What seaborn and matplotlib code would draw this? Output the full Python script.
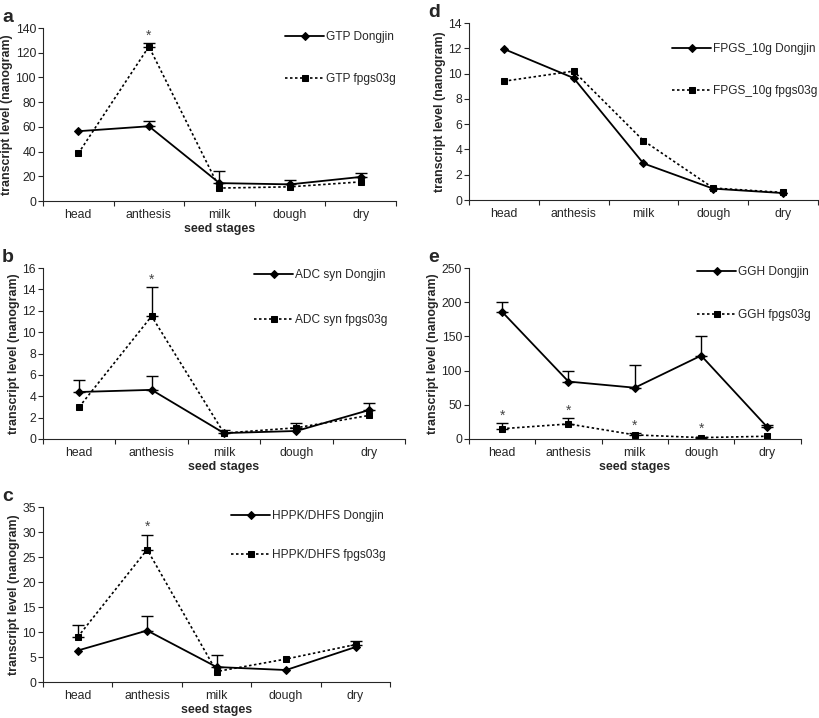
import numpy as np
import matplotlib
matplotlib.use("Agg")
import matplotlib.pyplot as plt
import seaborn as sns

sns.set_style("ticks")
plt.rcParams['font.family'] = ['Liberation Sans', 'DejaVu Sans']

stages = ["head", "anthesis", "milk", "dough", "dry"]

# panel a - GTP
gtp_dj = [56.5, 60.5, 14.5, 13.5, 19.5]
gtp_dj_err = [0, 4, 9.5, 3.5, 3.5]
gtp_fp = [38.5, 125, 10.5, 11.5, 15.5]
gtp_fp_err = [0, 3, 0, 0, 0]
gtp_star = [0, 1, 0, 0, 0]

# panel b - ADC syn
adc_dj = [4.4, 4.6, 0.55, 0.75, 2.7]
adc_dj_err = [1.1, 1.3, 0.3, 0, 0.65]
adc_fp = [3.0, 11.5, 0.55, 1.05, 2.2]
adc_fp_err = [0, 2.7, 0, 0.45, 0]
adc_star = [0, 1, 0, 0, 0]

# panel c - HPPK/DHFS
hppk_dj = [6.3, 10.3, 3.0, 2.4, 7.0]
hppk_dj_err = [0, 2.9, 2.4, 0, 0]
hppk_fp = [9.0, 26.5, 2.1, 4.6, 7.5]
hppk_fp_err = [2.5, 3.0, 0, 0, 0.7]
hppk_star = [0, 1, 0, 0, 0]

# panel d - FPGS_10g
fpgs_dj = [11.95, 9.65, 2.9, 0.9, 0.55]
fpgs_dj_err = [0, 0, 0, 0, 0]
fpgs_fp = [9.4, 10.2, 4.7, 0.95, 0.6]
fpgs_fp_err = [0, 0, 0, 0, 0]
fpgs_star = [0, 0, 0, 0, 0]

# panel e - GGH
ggh_dj = [186, 84, 75, 122, 17]
ggh_dj_err = [15, 15, 33, 29, 4]
ggh_fp = [15, 22, 6, 2, 4]
ggh_fp_err = [8, 9, 3, 1.5, 0]
ggh_star = [1, 1, 1, 1, 0]

fig = plt.figure(figsize=(8.19, 7.18), dpi=100)

FS = 8.8      # tick labels
LFS = 8.6     # legend
YFS = 8.9     # axis labels


def panel(rect, letter, gene, dj, dj_err, fp, fp_err, star, ymax, ystep,
          leg_xy, leg_space, xlabel=True):
    ax = fig.add_axes(rect)
    sns.lineplot(x=stages, y=dj, ax=ax, sort=False, color="k", lw=1.3,
                 marker="D", markersize=4.5, markeredgecolor="k",
                 label=gene + " Dongjin")
    sns.lineplot(x=stages, y=fp, ax=ax, sort=False, color="k", lw=1.2,
                 linestyle=(0, (1.5, 1.5)), marker="s", markersize=5,
                 markeredgecolor="k", label=gene + " fpgs03g")
    pos = np.arange(len(stages))
    for vals, errs in [(dj, dj_err), (fp, fp_err)]:
        vals = np.array(vals, float)
        errs = np.array(errs, float)
        keep = errs > 0
        if keep.any():
            ax.errorbar(pos[keep], vals[keep],
                        yerr=[np.zeros(keep.sum()), errs[keep]],
                        fmt="none", ecolor="k", elinewidth=1, capsize=4,
                        capthick=1)
    for i, s in enumerate(star):
        if s:
            # star sits just above the fpgs03g bar
            yv = fp[i] + fp_err[i]
            ax.text(i, yv + ymax * 0.003, "*", ha="center", va="bottom",
                    fontsize=10, color="#444444")
    ax.set_xlim(-0.5, 4.5)
    ax.set_ylim(0, ymax)
    ax.set_yticks(np.arange(0, ymax + ystep / 2, ystep))
    ax.set_xticks(pos)
    ax.set_xticklabels(stages)
    ax.set_xticks(np.arange(-0.5, 5, 1), minor=True)
    ax.tick_params(axis="x", which="major", length=0, pad=6, labelsize=FS)
    ax.tick_params(axis="x", which="minor", length=3.5, width=0.8)
    ax.tick_params(axis="y", length=3.5, width=0.8, labelsize=FS, pad=1.5)
    for sp in ["top", "right"]:
        ax.spines[sp].set_visible(False)
    for sp in ["left", "bottom"]:
        ax.spines[sp].set_linewidth(0.8)
    ax.set_ylabel("transcript level (nanogram)", fontsize=YFS,
                  fontweight="bold", labelpad=2)
    if xlabel:
        ax.set_xlabel("seed stages", fontsize=YFS, fontweight="bold",
                      labelpad=1)
    else:
        ax.set_xlabel("")
    ax.legend(loc="upper left", bbox_to_anchor=leg_xy,
              bbox_transform=fig.transFigure, frameon=False, fontsize=LFS,
              handlelength=3.3, handletextpad=0.1, labelspacing=leg_space,
              borderpad=0, borderaxespad=0)
    fig.text(rect[0] - 0.05, rect[1] + rect[3] + 0.003, letter,
             fontsize=14, fontweight="bold", va="bottom", ha="left")
    return ax


panel([0.0525, 0.720, 0.431, 0.241], "a", "GTP", gtp_dj, gtp_dj_err,
      gtp_fp, gtp_fp_err, gtp_star, 140, 20, (285 / 819, 1 - 31 / 718), 2.5)
panel([0.0525, 0.3886, 0.442, 0.238], "b", "ADC syn", adc_dj, adc_dj_err,
      adc_fp, adc_fp_err, adc_star, 16, 2, (254 / 819, 1 - 269 / 718), 2.8)
panel([0.0525, 0.0501, 0.424, 0.2437], "c", "HPPK/DHFS", hppk_dj, hppk_dj_err,
      hppk_fp, hppk_fp_err, hppk_star, 35, 5, (231 / 819, 1 - 510 / 718), 2.3)
panel([0.5726, 0.7214, 0.426, 0.2465], "d", "FPGS_10g", fpgs_dj, fpgs_dj_err,
      fpgs_fp, fpgs_fp_err, fpgs_star, 14, 2, (672 / 819, 1 - 43 / 718), 2.5,
      xlabel=False)
panel([0.5726, 0.3886, 0.405, 0.238], "e", "GGH", ggh_dj, ggh_dj_err,
      ggh_fp, ggh_fp_err, ggh_star, 250, 50, (697 / 819, 1 - 266 / 718), 2.6)

fig.savefig("out.png", dpi=100)
